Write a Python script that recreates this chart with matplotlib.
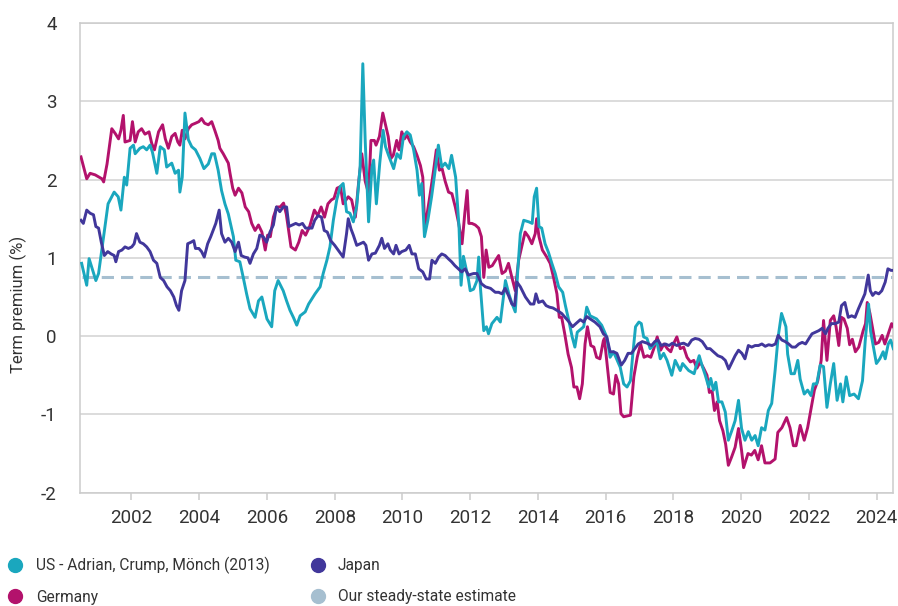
"""Term premium chart: US, Germany, Japan"""
import numpy as np
import matplotlib.pyplot as plt
from matplotlib.lines import Line2D

plt.rcParams['font.family'] = ['Roboto', 'DejaVu Sans']
plt.rcParams['axes.unicode_minus'] = False

# US - Adrian, Crump, Mönch (2013)
us_year = [2000.53, 2000.68, 2000.75, 2000.95, 2001.03, 2001.31, 2001.49, 2001.61, 2001.69, 2001.79,
           2001.86, 2001.96, 2002.06, 2002.11, 2002.25, 2002.35, 2002.45, 2002.55, 2002.62, 2002.75,
           2002.85, 2002.97, 2003.04, 2003.19, 2003.29, 2003.39, 2003.43, 2003.50, 2003.58, 2003.68,
           2003.78, 2003.89, 2004.02, 2004.14, 2004.27, 2004.37, 2004.45, 2004.56, 2004.66, 2004.76,
           2004.86, 2005.01, 2005.08, 2005.20, 2005.30, 2005.40, 2005.50, 2005.65, 2005.75, 2005.85,
           2006.00, 2006.14, 2006.23, 2006.33, 2006.48, 2006.58, 2006.68, 2006.78, 2006.88, 2006.98,
           2007.13, 2007.23, 2007.42, 2007.57, 2007.66, 2007.77, 2007.86, 2007.96, 2008.06, 2008.16,
           2008.25, 2008.35, 2008.45, 2008.55, 2008.65, 2008.75, 2008.83, 2008.90, 2009.00, 2009.10,
           2009.15, 2009.23, 2009.33, 2009.43, 2009.50, 2009.59, 2009.74, 2009.84, 2009.94, 2010.03,
           2010.13, 2010.23, 2010.33, 2010.43, 2010.50, 2010.57, 2010.65, 2010.75, 2010.86, 2010.96,
           2011.06, 2011.16, 2011.26, 2011.37, 2011.45, 2011.57, 2011.67, 2011.73, 2011.80, 2011.95,
           2012.00, 2012.10, 2012.20, 2012.25, 2012.30, 2012.40, 2012.48, 2012.54, 2012.64, 2012.79,
           2012.89, 2012.99, 2013.04, 2013.14, 2013.24, 2013.33, 2013.41, 2013.48, 2013.58, 2013.73,
           2013.83, 2013.89, 2013.96, 2014.03, 2014.11, 2014.21, 2014.31, 2014.41, 2014.51, 2014.61,
           2014.73, 2014.81, 2014.91, 2015.01, 2015.09, 2015.16, 2015.35, 2015.44, 2015.54, 2015.73,
           2015.88, 2016.03, 2016.13, 2016.23, 2016.43, 2016.53, 2016.63, 2016.73, 2016.80, 2016.88,
           2016.98, 2017.05, 2017.12, 2017.22, 2017.31, 2017.51, 2017.61, 2017.71, 2017.81, 2017.95,
           2018.05, 2018.20, 2018.27, 2018.45, 2018.61, 2018.69, 2018.76, 2018.84, 2018.94, 2019.04,
           2019.10, 2019.18, 2019.25, 2019.33, 2019.43, 2019.53, 2019.62, 2019.72, 2019.82, 2019.92,
           2020.01, 2020.11, 2020.21, 2020.31, 2020.41, 2020.50, 2020.60, 2020.70, 2020.80, 2020.90,
           2021.00, 2021.09, 2021.19, 2021.29, 2021.32, 2021.37, 2021.47, 2021.57, 2021.67, 2021.74,
           2021.86, 2021.96, 2022.06, 2022.13, 2022.23, 2022.33, 2022.43, 2022.53, 2022.63, 2022.73,
           2022.83, 2022.93, 2023.00, 2023.10, 2023.20, 2023.33, 2023.46, 2023.58, 2023.66, 2023.76,
           2023.82, 2023.99, 2024.09, 2024.19, 2024.25, 2024.34, 2024.41, 2024.49]
us_val = [0.93, 0.65, 0.99, 0.71, 0.80, 1.69, 1.84, 1.78, 1.61, 2.03,
          1.93, 2.40, 2.44, 2.33, 2.40, 2.42, 2.38, 2.44, 2.35, 2.08,
          2.42, 2.38, 2.16, 2.21, 2.08, 2.12, 1.84, 2.03, 2.85, 2.51,
          2.42, 2.38, 2.27, 2.14, 2.20, 2.33, 2.33, 2.12, 1.86, 1.69,
          1.56, 1.27, 0.97, 0.95, 0.75, 0.54, 0.35, 0.24, 0.45, 0.50,
          0.22, 0.12, 0.58, 0.71, 0.58, 0.45, 0.33, 0.24, 0.14, 0.26,
          0.31, 0.41, 0.54, 0.63, 0.80, 0.97, 1.14, 1.48, 1.74, 1.91,
          1.95, 1.59, 1.57, 1.46, 1.66, 2.16, 3.48, 2.50, 1.46, 2.16,
          2.25, 1.69, 2.21, 2.63, 2.42, 2.31, 2.14, 2.33, 2.27, 2.55,
          2.61, 2.57, 2.38, 2.12, 1.80, 1.95, 1.27, 1.48, 1.78, 2.10,
          2.44, 2.16, 2.21, 2.14, 2.31, 2.03, 1.39, 0.65, 1.02, 0.72,
          0.58, 0.60, 0.71, 1.01, 0.63, 0.07, 0.12, 0.03, 0.16, 0.24,
          0.18, 0.54, 0.71, 0.54, 0.41, 0.31, 0.88, 1.31, 1.48, 1.46,
          1.44, 1.78, 1.89, 1.40, 1.38, 1.18, 1.07, 0.93, 0.80, 0.63,
          0.56, 0.39, 0.20, -0.01, -0.14, 0.05, 0.12, 0.37, 0.26, 0.22,
          0.14, -0.01, -0.27, -0.20, -0.40, -0.61, -0.65, -0.57, -0.23, 0.12,
          0.18, 0.16, -0.01, -0.03, -0.16, -0.07, -0.29, -0.22, -0.31, -0.50,
          -0.31, -0.44, -0.35, -0.44, -0.48, -0.35, -0.25, -0.37, -0.50, -0.65,
          -0.54, -0.69, -0.59, -0.84, -0.84, -0.97, -1.33, -1.21, -1.08, -0.82,
          -1.18, -1.33, -1.22, -1.33, -1.27, -1.40, -1.17, -1.20, -0.95, -0.86,
          -0.44, -0.01, 0.29, 0.16, 0.12, -0.23, -0.48, -0.48, -0.31, -0.55,
          -0.74, -0.69, -0.76, -0.61, -0.61, -0.37, -0.39, -0.91, -0.61, -0.35,
          -0.82, -0.61, -0.84, -0.52, -0.76, -0.74, -0.80, -0.57, -0.06, 0.41,
          0.06, -0.35, -0.29, -0.20, -0.29, -0.10, -0.05, -0.16]

# Germany
de_year = [2000.51, 2000.68, 2000.78, 2000.93, 2001.13, 2001.18, 2001.28, 2001.42, 2001.52, 2001.62,
           2001.69, 2001.76, 2001.81, 2001.96, 2002.03, 2002.11, 2002.20, 2002.30, 2002.40, 2002.52,
           2002.60, 2002.68, 2002.80, 2002.92, 2003.00, 2003.09, 2003.19, 2003.29, 2003.37, 2003.43,
           2003.50, 2003.58, 2003.68, 2003.78, 2003.89, 2003.99, 2004.07, 2004.16, 2004.27, 2004.37,
           2004.46, 2004.56, 2004.61, 2004.71, 2004.86, 2004.91, 2004.99, 2005.06, 2005.16, 2005.26,
           2005.36, 2005.46, 2005.55, 2005.65, 2005.75, 2005.85, 2005.95, 2006.02, 2006.10, 2006.19,
           2006.29, 2006.39, 2006.49, 2006.57, 2006.64, 2006.71, 2006.84, 2006.94, 2007.04, 2007.14,
           2007.26, 2007.40, 2007.50, 2007.60, 2007.70, 2007.80, 2007.90, 2007.98, 2008.07, 2008.17,
           2008.25, 2008.40, 2008.50, 2008.61, 2008.71, 2008.80, 2008.90, 2009.00, 2009.07, 2009.17,
           2009.22, 2009.32, 2009.42, 2009.49, 2009.58, 2009.66, 2009.73, 2009.83, 2009.90, 2009.98,
           2010.06, 2010.13, 2010.23, 2010.33, 2010.43, 2010.53, 2010.60, 2010.66, 2010.72, 2010.82,
           2010.92, 2011.00, 2011.09, 2011.17, 2011.26, 2011.36, 2011.46, 2011.56, 2011.66, 2011.76,
           2011.84, 2011.91, 2011.96, 2012.05, 2012.15, 2012.25, 2012.33, 2012.40, 2012.47, 2012.55,
           2012.65, 2012.75, 2012.84, 2012.94, 2013.04, 2013.13, 2013.23, 2013.33, 2013.43, 2013.52,
           2013.62, 2013.72, 2013.82, 2013.92, 2013.96, 2014.03, 2014.13, 2014.26, 2014.36, 2014.46,
           2014.56, 2014.63, 2014.70, 2014.79, 2014.89, 2014.99, 2015.06, 2015.15, 2015.23, 2015.31,
           2015.39, 2015.46, 2015.56, 2015.65, 2015.73, 2015.83, 2015.93, 2015.96, 2016.03, 2016.13,
           2016.23, 2016.30, 2016.38, 2016.45, 2016.53, 2016.63, 2016.73, 2016.83, 2016.93, 2017.03,
           2017.13, 2017.23, 2017.33, 2017.42, 2017.52, 2017.62, 2017.72, 2017.82, 2017.92, 2018.00,
           2018.10, 2018.20, 2018.30, 2018.40, 2018.50, 2018.60, 2018.69, 2018.79, 2018.89, 2018.99,
           2019.06, 2019.14, 2019.21, 2019.29, 2019.36, 2019.46, 2019.54, 2019.62, 2019.72, 2019.82,
           2019.92, 2020.01, 2020.07, 2020.20, 2020.30, 2020.40, 2020.50, 2020.60, 2020.70, 2020.85,
           2021.00, 2021.08, 2021.20, 2021.34, 2021.44, 2021.54, 2021.62, 2021.74, 2021.86, 2021.96,
           2022.06, 2022.16, 2022.26, 2022.36, 2022.43, 2022.53, 2022.63, 2022.73, 2022.80, 2022.88,
           2022.96, 2023.03, 2023.13, 2023.20, 2023.28, 2023.37, 2023.47, 2023.60, 2023.67, 2023.72,
           2023.80, 2023.96, 2024.06, 2024.16, 2024.24, 2024.34, 2024.44, 2024.49]
de_val = [2.29, 2.01, 2.08, 2.06, 2.01, 1.97, 2.20, 2.65, 2.59, 2.52,
          2.63, 2.82, 2.48, 2.50, 2.74, 2.48, 2.61, 2.65, 2.58, 2.61,
          2.46, 2.38, 2.61, 2.70, 2.52, 2.40, 2.55, 2.59, 2.48, 2.44,
          2.63, 2.52, 2.65, 2.70, 2.72, 2.74, 2.78, 2.72, 2.70, 2.74,
          2.63, 2.50, 2.40, 2.33, 2.21, 2.08, 1.89, 1.80, 1.89, 1.83,
          1.65, 1.59, 1.44, 1.35, 1.42, 1.33, 1.10, 1.29, 1.27, 1.52,
          1.65, 1.65, 1.70, 1.56, 1.35, 1.14, 1.10, 1.20, 1.35, 1.29,
          1.40, 1.61, 1.54, 1.65, 1.52, 1.69, 1.74, 1.76, 1.89, 1.91,
          1.69, 1.78, 1.74, 1.52, 1.98, 2.33, 1.98, 1.82, 2.50, 2.50,
          2.44, 2.55, 2.85, 2.72, 2.55, 2.27, 2.31, 2.50, 2.38, 2.61,
          2.52, 2.57, 2.48, 2.42, 2.31, 2.18, 2.03, 1.37, 1.54, 1.82,
          2.12, 2.38, 2.12, 2.14, 1.98, 1.84, 1.82, 1.65, 1.44, 1.18,
          1.57, 1.86, 1.44, 1.44, 1.42, 1.38, 1.27, 0.75, 1.10, 0.88,
          0.90, 0.97, 1.03, 0.80, 0.83, 0.93, 0.75, 0.58, 0.97, 1.14,
          1.33, 1.27, 1.18, 1.31, 1.50, 1.27, 1.10, 1.01, 0.93, 0.75,
          0.54, 0.24, 0.24, 0.03, -0.23, -0.40, -0.65, -0.65, -0.80, -0.61,
          -0.10, 0.12, -0.12, -0.14, -0.27, -0.29, -0.06, -0.03, -0.31, -0.72,
          -0.74, -0.50, -0.61, -0.99, -1.03, -1.02, -1.01, -0.52, -0.27, -0.10,
          -0.27, -0.25, -0.27, -0.16, -0.01, -0.18, -0.10, -0.16, -0.20, -0.10,
          -0.01, -0.16, -0.14, -0.27, -0.33, -0.31, -0.41, -0.33, -0.41, -0.50,
          -0.72, -0.70, -0.95, -0.84, -1.08, -1.21, -1.38, -1.65, -1.54, -1.42,
          -1.18, -1.46, -1.68, -1.50, -1.52, -1.46, -1.58, -1.40, -1.62, -1.62,
          -1.57, -1.23, -1.17, -1.04, -1.17, -1.40, -1.40, -1.14, -1.33, -1.17,
          -0.93, -0.69, -0.57, -0.31, 0.20, -0.31, 0.20, 0.26, 0.12, -0.12,
          0.24, 0.22, 0.10, -0.11, -0.04, -0.20, -0.14, 0.07, 0.16, 0.43,
          0.29, -0.10, -0.08, 0.01, -0.10, 0.03, 0.16, 0.12]

# Japan
jp_year = [2000.51, 2000.58, 2000.68, 2000.78, 2000.88, 2000.95, 2001.03, 2001.11, 2001.20, 2001.30,
           2001.40, 2001.49, 2001.54, 2001.62, 2001.72, 2001.81, 2001.91, 2002.01, 2002.08, 2002.15,
           2002.25, 2002.35, 2002.45, 2002.55, 2002.65, 2002.75, 2002.85, 2002.95, 2003.05, 2003.15,
           2003.25, 2003.33, 2003.40, 2003.48, 2003.58, 2003.66, 2003.76, 2003.84, 2003.89, 2003.99,
           2004.07, 2004.15, 2004.25, 2004.34, 2004.49, 2004.59, 2004.66, 2004.76, 2004.86, 2004.96,
           2005.06, 2005.16, 2005.24, 2005.34, 2005.44, 2005.50, 2005.60, 2005.70, 2005.79, 2005.89,
           2005.99, 2006.09, 2006.19, 2006.28, 2006.38, 2006.48, 2006.58, 2006.65, 2006.75, 2006.85,
           2006.95, 2007.05, 2007.14, 2007.24, 2007.33, 2007.41, 2007.51, 2007.61, 2007.69, 2007.78,
           2007.88, 2008.00, 2008.10, 2008.25, 2008.35, 2008.40, 2008.48, 2008.55, 2008.65, 2008.75,
           2008.85, 2008.92, 2009.00, 2009.10, 2009.20, 2009.32, 2009.39, 2009.47, 2009.57, 2009.64,
           2009.74, 2009.81, 2009.90, 2009.98, 2010.10, 2010.20, 2010.28, 2010.38, 2010.48, 2010.60,
           2010.70, 2010.80, 2010.87, 2010.97, 2011.07, 2011.16, 2011.26, 2011.35, 2011.45, 2011.55,
           2011.65, 2011.75, 2011.85, 2011.95, 2012.10, 2012.20, 2012.33, 2012.45, 2012.60, 2012.74,
           2012.84, 2012.94, 2013.03, 2013.13, 2013.23, 2013.31, 2013.38, 2013.48, 2013.63, 2013.78,
           2013.88, 2013.94, 2014.02, 2014.14, 2014.24, 2014.34, 2014.44, 2014.56, 2014.70, 2014.80,
           2014.92, 2015.02, 2015.12, 2015.25, 2015.35, 2015.44, 2015.54, 2015.68, 2015.83, 2015.93,
           2016.03, 2016.13, 2016.23, 2016.33, 2016.46, 2016.56, 2016.66, 2016.76, 2016.86, 2016.96,
           2017.08, 2017.22, 2017.35, 2017.45, 2017.54, 2017.64, 2017.76, 2017.87, 2017.97, 2018.10,
           2018.20, 2018.30, 2018.43, 2018.54, 2018.64, 2018.75, 2018.85, 2018.99, 2019.08, 2019.18,
           2019.31, 2019.43, 2019.53, 2019.63, 2019.73, 2019.82, 2019.92, 2020.02, 2020.11, 2020.21,
           2020.31, 2020.41, 2020.51, 2020.61, 2020.71, 2020.81, 2020.91, 2021.01, 2021.09, 2021.20,
           2021.30, 2021.40, 2021.50, 2021.60, 2021.70, 2021.80, 2021.90, 2022.00, 2022.09, 2022.19,
           2022.29, 2022.39, 2022.49, 2022.56, 2022.66, 2022.78, 2022.88, 2022.96, 2023.06, 2023.16,
           2023.26, 2023.36, 2023.46, 2023.56, 2023.65, 2023.75, 2023.81, 2023.88, 2023.96, 2024.06,
           2024.15, 2024.25, 2024.33, 2024.42, 2024.47]
jp_val = [1.48, 1.44, 1.61, 1.57, 1.55, 1.40, 1.38, 1.20, 1.03, 1.08,
          1.05, 1.03, 0.95, 1.08, 1.10, 1.14, 1.12, 1.14, 1.18, 1.31,
          1.20, 1.18, 1.14, 1.08, 0.97, 0.93, 0.75, 0.71, 0.63, 0.58,
          0.50, 0.39, 0.33, 0.58, 0.71, 1.18, 1.20, 1.22, 1.12, 1.12,
          1.08, 1.01, 1.18, 1.27, 1.44, 1.61, 1.31, 1.20, 1.25, 1.20,
          1.08, 1.20, 1.03, 1.01, 1.00, 0.93, 1.05, 1.12, 1.29, 1.27,
          1.20, 1.33, 1.42, 1.65, 1.59, 1.65, 1.65, 1.40, 1.42, 1.44,
          1.42, 1.44, 1.38, 1.38, 1.38, 1.48, 1.54, 1.52, 1.35, 1.33,
          1.22, 1.16, 1.10, 1.01, 1.31, 1.50, 1.37, 1.29, 1.16, 1.18,
          1.20, 1.16, 0.97, 1.05, 1.06, 1.16, 1.25, 1.12, 1.18, 1.10,
          1.05, 1.16, 1.05, 1.08, 1.10, 1.16, 1.05, 1.05, 0.86, 0.82,
          0.73, 0.73, 0.97, 0.93, 1.01, 1.05, 1.03, 0.99, 0.95, 0.90,
          0.86, 0.82, 0.86, 0.78, 0.80, 0.80, 0.67, 0.63, 0.61, 0.56,
          0.56, 0.54, 0.61, 0.52, 0.41, 0.39, 0.69, 0.63, 0.50, 0.41,
          0.41, 0.54, 0.43, 0.45, 0.39, 0.37, 0.36, 0.33, 0.29, 0.24,
          0.18, 0.12, 0.16, 0.21, 0.18, 0.25, 0.22, 0.18, 0.12, 0.03,
          -0.01, -0.20, -0.20, -0.22, -0.37, -0.31, -0.22, -0.22, -0.16, -0.10,
          -0.07, -0.09, -0.12, -0.07, -0.05, -0.12, -0.10, -0.12, -0.09, -0.12,
          -0.10, -0.09, -0.12, -0.05, -0.03, -0.04, -0.07, -0.16, -0.16, -0.20,
          -0.25, -0.27, -0.31, -0.42, -0.33, -0.25, -0.18, -0.22, -0.29, -0.12,
          -0.14, -0.12, -0.12, -0.10, -0.13, -0.11, -0.12, -0.10, 0.01, -0.05,
          -0.07, -0.10, -0.14, -0.14, -0.10, -0.08, -0.10, -0.03, 0.03, 0.05,
          0.07, 0.10, 0.03, 0.10, 0.16, 0.16, 0.18, 0.39, 0.43, 0.24,
          0.26, 0.24, 0.35, 0.45, 0.54, 0.78, 0.58, 0.52, 0.56, 0.54,
          0.58, 0.69, 0.86, 0.84, 0.84]

steady_state = 0.75
steady_span = [2000.55, 2024.45]

labels = ['US - Adrian, Crump, Mönch (2013)', 'Germany', 'Japan', 'Our steady-state estimate']
colors = ['#1aa7be', '#b3126c', '#41379b', '#a6bfd0']

fig = plt.figure(figsize=(8.98, 6.06), dpi=100)
ax = fig.add_axes([0.0894, 0.187, 0.9054, 0.775])

ax.hlines(steady_state, steady_span[0], steady_span[1], color=colors[3], linewidth=2.2,
          linestyles=(0, (4, 2.3)), zorder=2)
ax.plot(de_year, de_val, color=colors[1], linewidth=2.1, zorder=3)
ax.plot(us_year, us_val, color=colors[0], linewidth=2.1, zorder=4)
ax.plot(jp_year, jp_val, color=colors[2], linewidth=2.1, zorder=5)

ax.set_xlim(2000.49, 2024.49)
ax.set_ylim(-2, 4)
ax.set_yticks(np.arange(-2, 5, 1))
ax.set_xticks(np.arange(2002, 2025, 2))
ax.grid(True, axis='y', color='#d2d2d2', linewidth=1.1)
ax.set_axisbelow(True)
for s in ax.spines.values():
    s.set_color('#cccccc')
    s.set_linewidth(1.1)
ax.tick_params(axis='y', length=0, pad=17, labelsize=13.5, labelcolor='#333333')
ax.tick_params(axis='x', length=5, width=1.1, color='#cccccc', pad=7, labelsize=13.5,
               labelcolor='#333333')
ax.set_ylabel('Term premium (%)', fontsize=12, color='#333333')
ax.yaxis.set_label_coords(-0.066, 0.40)

handles = [Line2D([], [], linestyle='none', marker='o', markersize=10, color=c) for c in colors]
fig.legend(handles, labels, ncol=2, loc='upper left', bbox_to_anchor=(-0.007, 0.091),
           frameon=False, fontsize=11.2, handletextpad=0.3, columnspacing=2.1,
           labelspacing=1.0, borderaxespad=0, labelcolor='#333333')

fig.savefig('out.png', dpi=100)
